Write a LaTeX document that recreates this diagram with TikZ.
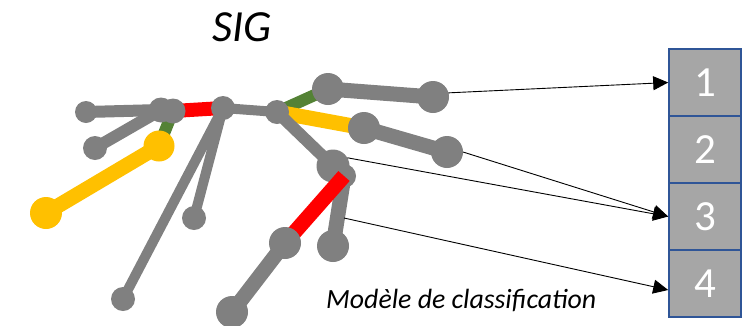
\documentclass[tikz,border=0pt]{standalone}
\usepackage{fontspec}
\setmainfont{Carlito}
\usetikzlibrary{arrows.meta}
\definecolor{jgray}{HTML}{808080}
\definecolor{jyellow}{HTML}{FFC000}
\definecolor{jred}{HTML}{FF0000}
\definecolor{jgreen}{HTML}{548235}
\definecolor{bxfill}{HTML}{A6A6A6}
\definecolor{bxline}{HTML}{2F5597}
\pgfdeclarelayer{bg}
\pgfdeclarelayer{mid}
\pgfsetlayers{bg,mid,main}
\begin{document}
\begin{tikzpicture}[x=1pt,y=-1pt,
  joint/.style={circle,fill=jgray,inner sep=0pt,outer sep=0pt,minimum size=#1},
  joint/.default=24pt,
  yjoint/.style={circle,fill=jyellow,inner sep=0pt,outer sep=0pt,minimum size=#1},
  bone/.style={line width=#1,draw=jgray},
  bone/.default=11pt,
  ybone/.style={line width=15pt,draw=jyellow},
  rbone/.style={line width=14pt,draw=jred},
  gbone/.style={line width=12pt,draw=jgreen},
  classbox/.style={draw=bxline,line width=1.6pt,fill=bxfill,minimum width=72pt,
    minimum height=67pt,inner sep=0pt,text=white,font=\fontsize{43}{43}\selectfont},
  link/.style={draw=black,line width=0.9pt,-{Triangle[length=15pt,width=14pt]}},
  lbl/.style={anchor=base west,inner sep=0pt}
]
\useasboundingbox (0,0) rectangle (751,325);

% joints (main layer)
\node[joint=22pt] (A) at (86,112) {};
\node[joint=24pt] (B) at (95,148) {};
\node[joint=25pt] (C1) at (161,110) {};
\node[joint=25pt] (C2) at (173,111) {};
\node[yjoint=31pt] (D) at (159,146) {};
\node[yjoint=32pt] (E) at (46,213) {};
\node[joint=24pt] (F) at (223,108) {};
\node[joint=24pt] (G) at (194,218) {};
\node[joint=24pt] (H) at (123,299) {};
\node[joint=24pt] (I) at (277,112) {};
\node[joint=32pt] (L) at (285,243) {};
\node[joint=32pt] (M) at (232,312) {};
\node[joint=32pt] (N) at (333,246) {};
\node[joint=32pt] (O) at (328,89) {};
\node[joint=32pt] (P) at (433,97) {};
\node[joint=32pt] (Q) at (364,128) {};
\node[joint=32pt] (R) at (447,152) {};

\begin{pgfonlayer}{mid}
\node[joint=24pt] (K) at (344,176) {};
\node[joint=33pt] (J) at (333,166) {};
\draw[rbone,line width=15pt] (K.center) -- (L.center);
\end{pgfonlayer}

\begin{pgfonlayer}{bg}
\draw[bone=12pt] (A.center) -- (C1.center);
\draw[bone=12pt] (B.center) -- (C1.center);
\draw[gbone] (C2.center) -- (D.center);
\draw[ybone] (D.center) -- (E.center);
\draw[rbone] (C2.center) -- (F.center);
\draw[bone=10pt] (F.center) -- (G.center);
\draw[bone=10pt] (F.center) -- (H.center);
\draw[bone=10pt] (F.center) -- (I.center);
\draw[gbone] (I.center) -- (O.center);
\draw[bone=15pt] (O.center) -- (P.center);
\draw[ybone] (I.center) -- (Q.center);
\draw[bone=15pt] (Q.center) -- (R.center);
\draw[bone=12pt] (I.center) -- (J.center);
\draw[bone=15pt] (K.center) -- (N.center);
\draw[bone=15pt] (L.center) -- (M.center);
\end{pgfonlayer}

% classes
\node[classbox] (b1) at (705,82.5) {1};
\node[classbox] (b2) at (705,149.5) {2};
\node[classbox] (b3) at (705,216.5) {3};
\node[classbox] (b4) at (705,283.5) {4};

% texts
\node[lbl,font=\itshape\fontsize{44.5}{50}\selectfont] (title) at (212,41) {SIG};
\node[lbl,font=\itshape\fontsize{27.8}{30}\selectfont] (model) at (326,308) {Modèle de classification};

% links
\coordinate (s4) at (344,218);
\draw[link] (P.15) -- (b1.west);
\draw[link] (R.east) -- (b3.west);
\draw[link] (J.30) -- (b3.west);
\draw[link] (s4) -- (b4.190);
\end{tikzpicture}
\end{document}
